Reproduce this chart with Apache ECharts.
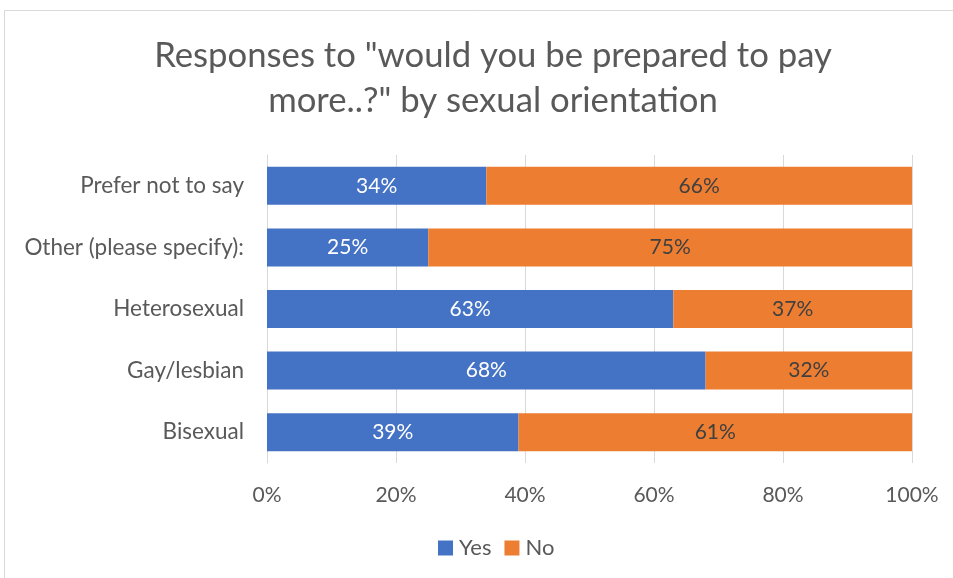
<!DOCTYPE html>
<html>
<head>
<meta charset="utf-8">
<script src="https://cdn.jsdelivr.net/npm/echarts@6/dist/echarts.min.js"></script>
<style>
  html, body { margin: 0; padding: 0; background: #ffffff; }
  #chart { width: 953px; height: 578px; }
</style>
</head>
<body>
<div id="chart"></div>
<script>
// Survey answers by sexual orientation (percent of respondents)
const categories = ['Bisexual', 'Gay/lesbian', 'Heterosexual', 'Other (please specify):', 'Prefer not to say'];
const yesValues = [39, 68, 63, 25, 34];
const noValues = [61, 32, 37, 75, 66];
const xTicks = [0, 20, 40, 60, 80, 100];

const FONT = 'Lato, "Open Sans", sans-serif';
const TEXT = '#595959';

const chart = echarts.init(document.getElementById('chart'));

chart.setOption({
  animation: false,
  textStyle: { fontFamily: FONT },
  title: {
    text: 'Responses to "would you be prepared to pay\nmore..?" by sexual orientation',
    left: 488,
    textAlign: 'center',
    top: 28,
    textStyle: { fontFamily: FONT, fontSize: 34.7, fontWeight: 'normal', color: TEXT, lineHeight: 45 }
  },
  graphic: [{
    type: 'rect',
    shape: { x: 4.5, y: 10.5, width: 1000, height: 600 },
    style: { fill: 'none', stroke: '#d9d9d9', lineWidth: 1 },
    silent: true,
    z: -10
  }],
  legend: {
    data: ['Yes', 'No'],
    bottom: 14,
    left: 433,
    itemWidth: 15,
    itemHeight: 15,
    itemGap: 13,
    icon: 'rect',
    textStyle: { fontFamily: FONT, fontSize: 22, color: TEXT, padding: [0, 0, 0, 1] }
  },
  grid: { left: 267, right: 41, top: 155, bottom: 115, containLabel: false },
  xAxis: {
    type: 'value',
    min: xTicks[0],
    max: xTicks[xTicks.length - 1],
    interval: 20,
    axisLine: { show: false },
    axisTick: { show: false },
    splitLine: { show: true, lineStyle: { color: '#d9d9d9', width: 1 } },
    axisLabel: { formatter: v => v + '%', fontFamily: FONT, fontSize: 21, color: TEXT, margin: 22 }
  },
  yAxis: {
    type: 'category',
    data: categories,
    axisLine: { show: true, lineStyle: { color: '#d9d9d9' } },
    axisTick: { show: false },
    axisLabel: { fontFamily: FONT, fontSize: 22.5, color: TEXT, margin: 23 }
  },
  series: [
    {
      name: 'Yes',
      type: 'bar',
      stack: 'total',
      data: yesValues,
      barWidth: 38,
      itemStyle: { color: '#4472c4' },
      label: { show: true, position: 'inside', formatter: p => p.value + '%', color: '#ffffff', fontFamily: FONT, fontSize: 21 }
    },
    {
      name: 'No',
      type: 'bar',
      stack: 'total',
      data: noValues,
      barWidth: 38,
      itemStyle: { color: '#ed7d31' },
      label: { show: true, position: 'inside', formatter: p => p.value + '%', color: '#404040', fontFamily: FONT, fontSize: 21 }
    }
  ]
});
</script>
</body>
</html>
